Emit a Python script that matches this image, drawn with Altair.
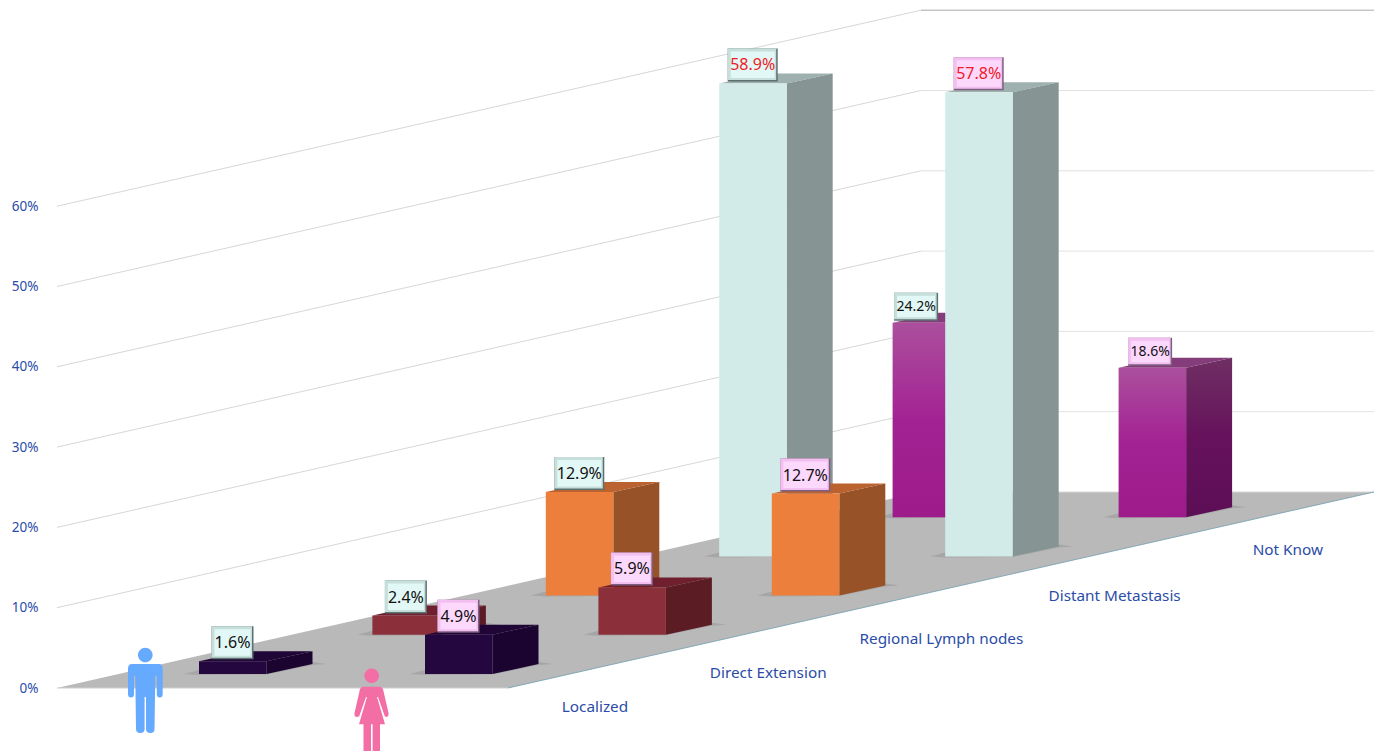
import re
import altair as alt
import pandas as pd

# ---- data ----
categories = ["Localized", "Direct Extension", "Regional Lymph nodes", "Distant Metastasis", "Not Know"]
male_values = [1.6, 2.4, 12.9, 58.9, 24.2]
female_values = [4.9, 5.9, 12.7, 57.8, 18.6]
axis_ticks = [0, 10, 20, 30, 40, 50, 60]
category_label_rise = [0, 34, 68, 111, 157]

front_colors = ["#24073f", "#8b2f3b", "#ed7f3d", "#d3ebe8", None]
side_colors = ["#1b0530", "#5b1c24", "#975327", "#869594", None]
top_colors = ["#200636", "#701f2e", "#bb6330", "#9eb1ae", "#843c7a"]

FONT = "Noto Sans"
TEXT_BLUE = "#2a4ca8"

# ---- oblique projection of the 3D chart ----
Y0 = 688.0
PX_PER_PCT = 8.03
BAR_W = 67.5
DX, DY = 46.0, 10.0
PLOT_LEFT = 46


def yu(py):
    return (Y0 - py) / PX_PER_PCT


def bar_x0(cat, sex):
    return 199 + 173.4 * cat + 226 * sex


def bar_base(cat):
    return 674 - 39.2 * cat


xs = alt.Scale(domain=[PLOT_LEFT, 1374], nice=False, zero=False)
ys = alt.Scale(domain=[yu(751), yu(8)], nice=False, zero=False)
y_axis = alt.Axis(values=axis_ticks, domain=False, ticks=False, grid=False, labelPadding=8,
                  labelColor=TEXT_BLUE, labelFont=FONT, labelFontSize=13.5,
                  labelExpr="datum.value + '%'", title=None)


def X(f="x"):
    return alt.X(f"{f}:Q", scale=xs, axis=None, title=None)


def Y(f="y"):
    return alt.Y(f"{f}:Q", scale=ys, axis=y_axis, title=None)


def area(points, color, opacity=1.0):
    df = pd.DataFrame([{"x": x, "y": yu(a), "y2": yu(b)} for x, a, b in points])
    return alt.Chart(df).mark_area(orient="vertical", color=color, opacity=opacity, interpolate="linear").encode(
        x=X(), y=Y(), y2=alt.Y2("y2:Q"))


def line(points, color, width):
    df = pd.DataFrame([{"x": x, "y": yu(y), "o": i} for i, (x, y) in enumerate(points)])
    return alt.Chart(df).mark_line(color=color, strokeWidth=width, interpolate="linear").encode(
        x=X(), y=Y(), order="o:Q")


def grad(stops):
    return alt.Gradient(gradient="linear", x1=0, x2=0, y1=0, y2=1,
                        stops=[alt.GradientStop(color=c, offset=o) for o, c in stops])


layers = []

# wall gridlines
WALL_X, BACK_X, RIGHT_X = 57.0, 921.0, 1374.0
for t in axis_ticks[1:]:
    py = Y0 - t * PX_PER_PCT
    back = py - 196
    layers.append(line([(WALL_X, py), (BACK_X, back)], "#c4c4c4", 0.7))
    layers.append(line([(BACK_X, back), (RIGHT_X, back)], "#a9a9a9" if t == 60 else "#e2e2e2", 1))

# floor
layers.append(area([(57, 688, 688), (508, 585.7, 688), (921, 492, 594.5), (1374, 492, 492)], "#b9b9b9"))
layers.append(line([(921, 492), (1374, 492)], "#d8d8d8", 1))
layers.append(line([(508, 688), (1374, 492)], "#6f9cac", 0.8))
layers.append(line([(57, 688), (508, 688)], "#cfcfcf", 1))


def add_bar(cat, sex, value):
    x0 = bar_x0(cat, sex)
    x1 = x0 + BAR_W
    base = bar_base(cat)
    top = base - value * PX_PER_PCT
    # soft contact shadow
    layers.append(area([(x0 - 15, base, base), (x0, base - 4, base + 1), (x1, base - 4, base + 0.5),
                        (x1 + DX, base - DY - 2, base - DY + 1), (x1 + DX + 14, base - DY, base - DY)],
                       "#8a8a8a", 0.4))
    if cat == 4:
        front = grad([(0, "#ab4f9d"), (0.5, "#a32293"), (1, "#9d1b8b")])
        side = grad([(0, "#6f2f63"), (0.5, "#66125c"), (1, "#5c0e55")])
    else:
        front, side = front_colors[cat], side_colors[cat]
    # top face
    layers.append(area([(x0, top, top), (x0 + DX, top - DY, top), (x1, top - DY, top),
                        (x1 + DX, top - DY, top - DY)], top_colors[cat]))
    # side face
    layers.append(area([(x1, top, base), (x1 + DX, top - DY, base - DY)], side))
    # front face
    df = pd.DataFrame([{"x": x0, "x2": x1, "y": yu(top), "y2": yu(base)}])
    layers.append(alt.Chart(df).mark_rect(color=front).encode(
        x=X(), x2=alt.X2("x2:Q"), y=Y(), y2=alt.Y2("y2:Q")))


boxes = []
for cat in range(4, -1, -1):
    for sex, vals in enumerate([male_values, female_values]):
        v = vals[cat]
        add_bar(cat, sex, v)
        small = cat == 4
        wid = 44 if small else (50 if v >= 10 else 42)
        hgt = 28 if small else 33
        shift = -10 if (cat == 4 and sex == 0) else (-2 if cat == 4 else 0)
        cx = bar_x0(cat, sex) + 33.5 + shift
        bottom = bar_base(cat) - v * PX_PER_PCT - 2
        boxes.append(dict(
            l=cx - wid / 2, r=cx + wid / 2, t=bottom - hgt, b=bottom, cx=cx, cy=bottom - hgt / 2 + 0.5,
            label=f"{v}%", size=14 if small else 16,
            ink="#ee1c25" if cat == 3 else "#111111",
            dark="#5c7070" if sex == 0 else "#7c5f80",
            light="#c6dfdb" if sex == 0 else "#f3bff0",
            face="#e2f8f6" if sex == 0 else "#fdd8fd",
        ))

box_df = pd.DataFrame(boxes)


def box_layer(dl, dt, dr, db, color_field):
    d = box_df.copy()
    d["x"] = d["l"] + dl
    d["x2"] = d["r"] - dr
    d["y"] = (Y0 - (d["t"] + dt)) / PX_PER_PCT
    d["y2"] = (Y0 - (d["b"] - db)) / PX_PER_PCT
    d = d[["x", "x2", "y", "y2", color_field]].rename(columns={color_field: "c"})
    return alt.Chart(d).mark_rect().encode(
        x=X(), x2=alt.X2("x2:Q"), y=Y(), y2=alt.Y2("y2:Q"),
        color=alt.Color("c:N", scale=None, legend=None))


layers.append(box_layer(0, 0, 0, 0, "dark"))
layers.append(box_layer(0, 0, 1.5, 1.5, "light"))
layers.append(box_layer(3, 3, 3, 3.5, "face"))

for size, grp in box_df.groupby("size"):
    d = pd.DataFrame({"x": grp["cx"], "y": (Y0 - grp["cy"]) / PX_PER_PCT, "label": grp["label"], "ink": grp["ink"]})
    layers.append(alt.Chart(d).mark_text(font=FONT, fontSize=float(size), baseline="middle", align="center").encode(
        x=X(), y=Y(), text="label:N", color=alt.Color("ink:N", scale=None, legend=None)))

# category labels
cat_df = pd.DataFrame({
    "x": [595 + 173.2 * i for i in range(5)],
    "y": [yu(707 - r) for r in category_label_rise],
    "label": categories,
})
layers.append(alt.Chart(cat_df).mark_text(font=FONT, fontSize=15.3, color=TEXT_BLUE, baseline="middle", align="center").encode(
    x=X(), y=Y(), text="label:N"))


# person icons as custom symbols
def circle(cx, cy, r):
    k = 0.5523 * r
    return (f"M{cx-r} {cy} C{cx-r} {cy-k} {cx-k} {cy-r} {cx} {cy-r} C{cx+k} {cy-r} {cx+r} {cy-k} {cx+r} {cy} "
            f"C{cx+r} {cy+k} {cx+k} {cy+r} {cx} {cy+r} C{cx-k} {cy+r} {cx-r} {cy+k} {cx-r} {cy} Z")


def normalise(path, cx, cy, half):
    out, axis_i = [], 0
    for tok in re.findall(r"[MLQCZ]|-?\d+\.?\d*", path):
        if tok.isalpha():
            out.append(tok)
        else:
            c = cx if axis_i % 2 == 0 else cy
            out.append(f"{(float(tok) - c) / half:.4f}")
            axis_i += 1
    return " ".join(out)


man = circle(145.3, 655, 7.3) + (
    " M132 664 L158.5 664 Q162.7 664 162.7 669 L162.7 694 Q162.7 697.5 159.7 697.5 Q156.8 697.5 156.8 694"
    " L156.8 676 L155.3 676 L154.5 729 Q154.5 733 150.5 733 Q146 733 146 729 L146 697 L144.6 697 L144.6 729"
    " Q144.6 733 140.3 733 Q136 733 136 729 L135.3 676 L134 676 L134 694 Q134 697.5 131 697.5 Q128 697.5 128 694"
    " L128 669 Q128 664 132 664 Z")
woman = circle(371.7, 675.7, 7.3) + (
    " M364 686.7 L379 686.7 Q382 686.7 383 689 L388.5 713 Q389 717 386 717 Q384.5 717 384 714 L378 697 L377 697"
    " L385 724.3 L380 724.3 L380 760 L372.6 760 L372.6 724.3 L371 724.3 L371 760 L363.5 760 L363.5 724.3 L359 724.3"
    " L367 697 L366 697 L360 714 Q359.5 717 357 717 Q354 717 354.5 713 L360 689 Q361 686.7 364 686.7 Z")

for path, cx, cy, half, col in [(man, 145.3, 690.5, 42.5, "#66aaff"), (woman, 371.5, 714, 46.3, "#f46ea6")]:
    d = pd.DataFrame({"x": [cx], "y": [yu(cy)]})
    layers.append(alt.Chart(d).mark_point(shape=normalise(path, cx, cy, half), filled=True, color=col, opacity=1,
                                          size=(2 * half) ** 2, strokeWidth=0).encode(x=X(), y=Y()))

chart = alt.layer(*layers).properties(
    width=1366 - PLOT_LEFT + 8, height=743,
    padding=alt.Padding(left=PLOT_LEFT - 8, top=0, right=0, bottom=0),
    background="white",
    autosize=alt.AutoSizeParams(type="none"),
).configure_view(strokeWidth=0)

chart.save("out.html", embed_options={"renderer": "svg", "actions": False})
